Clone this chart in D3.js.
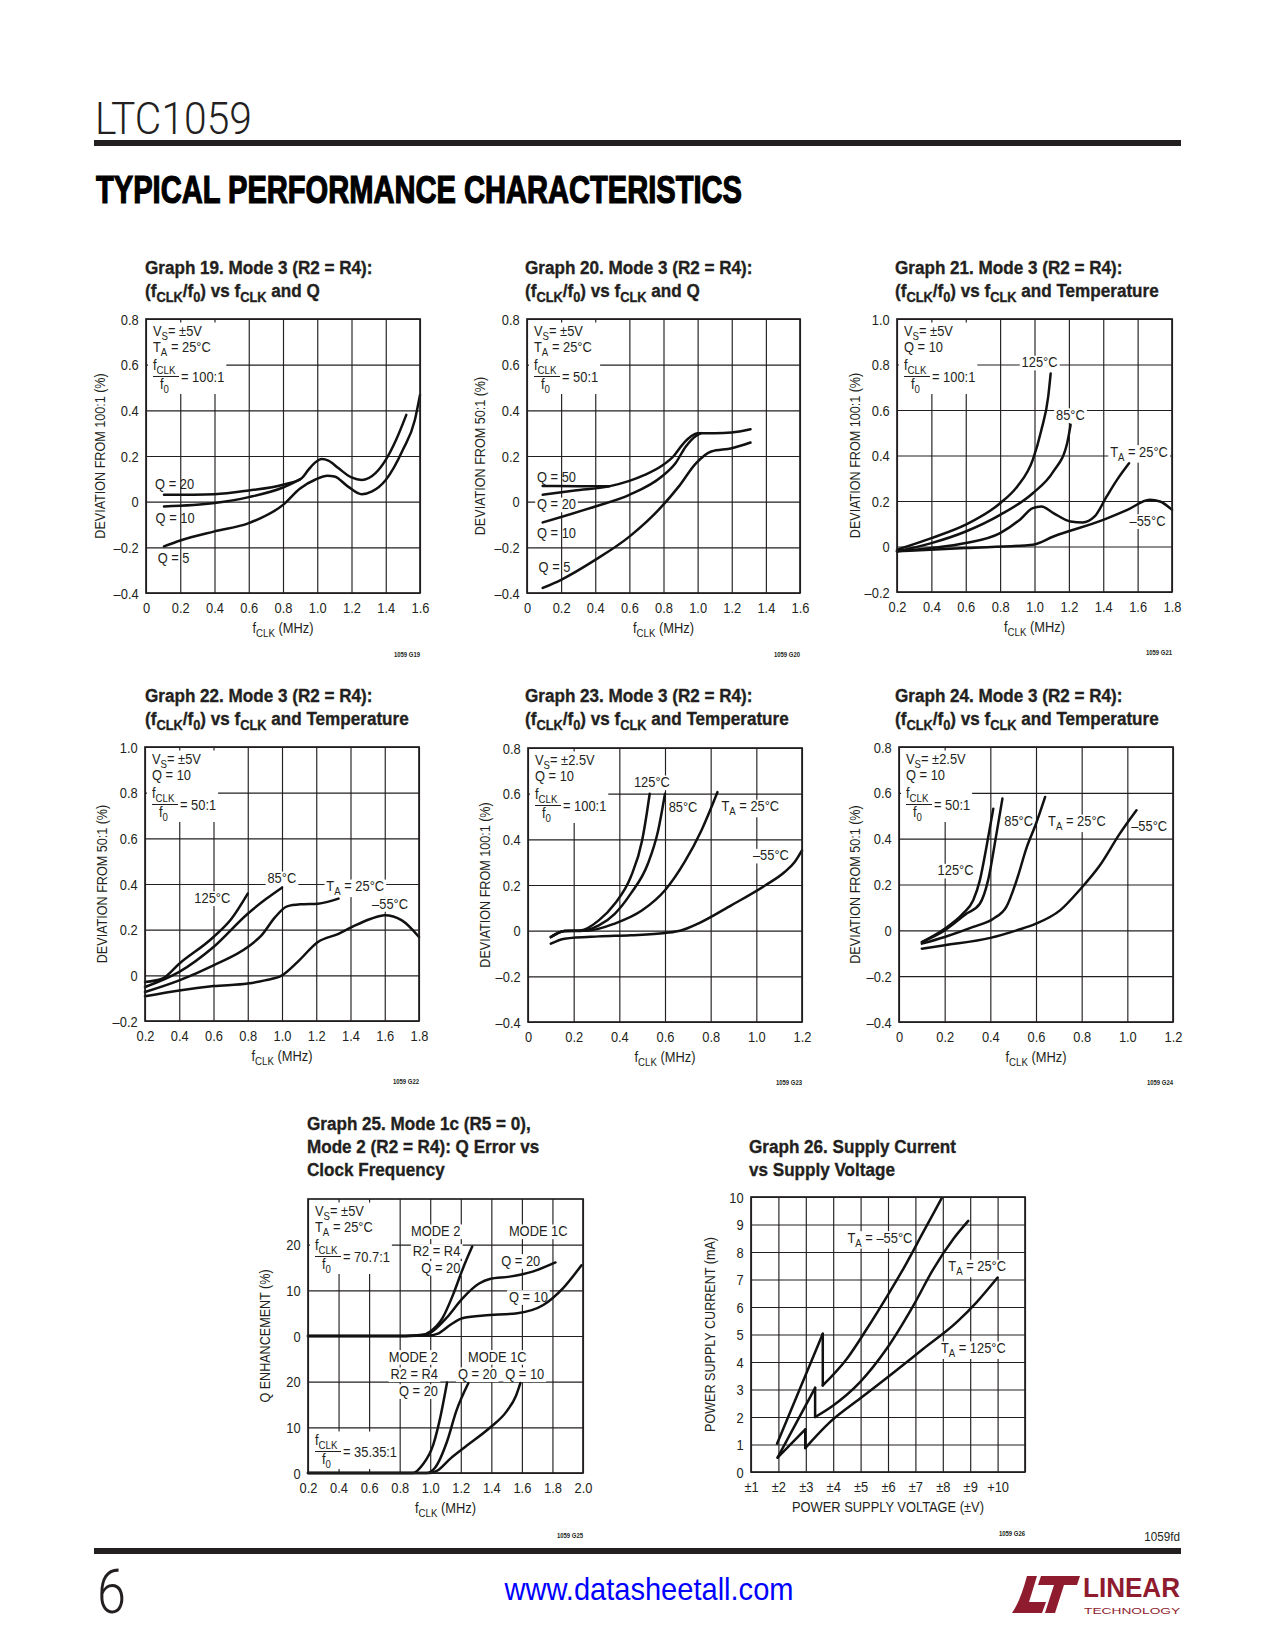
<!DOCTYPE html>
<html><head><meta charset="utf-8">
<script src="https://cdn.jsdelivr.net/npm/d3@7"></script>
<style>body{margin:0;background:#fff}</style>
</head><body>
<script>
// ================= DATA =================
// tick values / labels
const xTicks0_16 = [0,0.2,0.4,0.6,0.8,1.0,1.2,1.4,1.6];
const xLabels0_16 = ['0','0.2','0.4','0.6','0.8','1.0','1.2','1.4','1.6'];
const xTicks02_18 = [0.2,0.4,0.6,0.8,1.0,1.2,1.4,1.6,1.8];
const xLabels02_18 = ['0.2','0.4','0.6','0.8','1.0','1.2','1.4','1.6','1.8'];
const xTicks0_12 = [0,0.2,0.4,0.6,0.8,1.0,1.2];
const xLabels0_12 = ['0','0.2','0.4','0.6','0.8','1.0','1.2'];
const yTicksM4_8 = [-0.4,-0.2,0,0.2,0.4,0.6,0.8];
const yLabelsM4_8 = ['\u20130.4','\u20130.2','0','0.2','0.4','0.6','0.8'];
const yTicksM2_10 = [-0.2,0,0.2,0.4,0.6,0.8,1.0];
const yLabelsM2_10 = ['\u20130.2','0','0.2','0.4','0.6','0.8','1.0'];
const g25XTicks = [0.2,0.4,0.6,0.8,1.0,1.2,1.4,1.6,1.8,2.0];
const g25XLabels = ['0.2','0.4','0.6','0.8','1.0','1.2','1.4','1.6','1.8','2.0'];
const g25YTicks = [0,10,20,30,40,50];
const g25YLabels = ['0','10','20','0','10','20'];
const g26XTicks = [1,2,3,4,5,6,7,8,9,10,11];
const g26XLabels = ['\u00b11','\u00b12','\u00b13','\u00b14','\u00b15','\u00b16','\u00b17','\u00b18','\u00b19','+10',''];
const g26YTicks = [0,1,2,3,4,5,6,7,8,9,10];
const g26YLabels = ['0','1','2','3','4','5','6','7','8','9','10'];

// Graph 19 : [fCLK MHz, deviation %]
const g19Q20 = [[0.105,0.030],[0.4,0.033],[0.6,0.049],[0.8,0.074],[0.909,0.103],[0.948,0.139],[0.987,0.171],[1.026,0.187],[1.065,0.18],[1.123,0.147],[1.2,0.106],[1.26,0.095],[1.34,0.125],[1.40,0.183],[1.46,0.27],[1.52,0.38]];
const g19Q10 = [[0.105,-0.021],[0.4,-0.006],[0.6,0.020],[0.8,0.062],[0.9,0.098]];
const g19Q5  = [[0.105,-0.196],[0.2,-0.17],[0.4,-0.13],[0.6,-0.094],[0.8,-0.014],[0.9,0.058],[0.99,0.097],[1.06,0.113],[1.1,0.11],[1.18,0.066],[1.26,0.033],[1.32,0.045],[1.40,0.095],[1.5,0.227],[1.57,0.358],[1.6,0.467]];
// Graph 20
const g20Q50 = [[0.092,0.069],[0.3,0.068],[0.48,0.067]];
const g20Q20 = [[0.092,0.030],[0.28,0.049],[0.48,0.067],[0.6,0.091],[0.69,0.117],[0.79,0.157],[0.86,0.20],[0.91,0.249],[0.96,0.285],[1.0,0.30],[1.1,0.30],[1.2,0.303],[1.31,0.317]];
const g20Q10 = [[0.092,-0.091],[0.4,-0.021],[0.6,0.030],[0.79,0.11],[0.87,0.168],[0.93,0.241],[0.99,0.288],[1.02,0.30]];
const g20Q5  = [[0.092,-0.378],[0.2,-0.342],[0.4,-0.255],[0.6,-0.153],[0.79,-0.021],[0.89,0.067],[0.99,0.168],[1.08,0.22],[1.2,0.234],[1.31,0.259]];
// Graph 21
const g21T125 = [[0.2,-0.014],[0.4,0.037],[0.6,0.096],[0.8,0.19],[0.9,0.264],[0.99,0.381],[1.04,0.512],[1.08,0.66],[1.094,0.76]];
const g21T85  = [[0.2,-0.021],[0.4,0.015],[0.6,0.066],[0.8,0.139],[0.99,0.234],[1.11,0.33],[1.19,0.454],[1.21,0.535]];
const g21T25  = [[0.2,-0.021],[0.4,-0.007],[0.6,0.015],[0.8,0.059],[0.915,0.118],[0.99,0.169],[1.04,0.176],[1.11,0.147],[1.21,0.11],[1.28,0.106],[1.35,0.132],[1.42,0.22],[1.48,0.293],[1.55,0.366]];
const g21TM55 = [[0.2,-0.021],[0.6,-0.007],[0.99,0.008],[1.11,0.044],[1.4,0.117],[1.54,0.161],[1.67,0.205],[1.73,0.198],[1.8,0.161]];
// Graph 22
const g22T125 = [[0.2,-0.029],[0.3,-0.015],[0.4,0.051],[0.6,0.168],[0.705,0.248],[0.8,0.358]];
const g22T85  = [[0.2,-0.051],[0.4,0.015],[0.6,0.124],[0.8,0.27],[0.91,0.336],[1.0,0.384]];
const g22T25  = [[0.2,-0.073],[0.4,-0.022],[0.6,0.044],[0.8,0.124],[0.88,0.175],[0.96,0.255],[1.03,0.302],[1.11,0.311],[1.21,0.314],[1.33,0.336]];
const g22TM55 = [[0.2,-0.092],[0.4,-0.066],[0.6,-0.047],[0.8,-0.036],[0.9,-0.022],[1.0,0.0],[1.09,0.058],[1.21,0.146],[1.33,0.182],[1.41,0.212],[1.52,0.248],[1.6,0.263],[1.7,0.241],[1.8,0.168]];
// Graph 23
const g23T125 = [[0.1,-0.028],[0.16,-0.001],[0.23,0.001],[0.31,0.045],[0.38,0.118],[0.45,0.235],[0.5,0.396],[0.52,0.512],[0.533,0.6]];
const g23T85  = [[0.1,-0.028],[0.16,-0.001],[0.23,-0.001],[0.31,0.023],[0.38,0.074],[0.45,0.162],[0.525,0.293],[0.57,0.439],[0.6,0.6]];
const g23T25  = [[0.1,-0.028],[0.16,-0.001],[0.26,0.0],[0.38,0.031],[0.5,0.089],[0.6,0.177],[0.686,0.301],[0.76,0.44],[0.83,0.607]];
const g23TM55 = [[0.1,-0.057],[0.16,-0.035],[0.31,-0.025],[0.45,-0.02],[0.6,-0.01],[0.67,0.001],[0.745,0.031],[0.89,0.111],[1.04,0.199],[1.124,0.257],[1.168,0.301],[1.2,0.352]];
// Graph 24
const g24T125 = [[0.1,-0.051],[0.2,0.007],[0.28,0.073],[0.325,0.131],[0.354,0.218],[0.383,0.364],[0.413,0.531]];
const g24T85  = [[0.1,-0.051],[0.2,0.0],[0.296,0.073],[0.354,0.116],[0.39,0.218],[0.427,0.422],[0.453,0.575]];
const g24T25  = [[0.1,-0.058],[0.2,-0.029],[0.325,0.015],[0.413,0.051],[0.47,0.102],[0.515,0.218],[0.56,0.364],[0.6,0.465],[0.64,0.582]];
const g24TM55 = [[0.1,-0.08],[0.2,-0.065],[0.4,-0.033],[0.515,0.0],[0.6,0.029],[0.705,0.087],[0.79,0.175],[0.88,0.284],[0.967,0.422],[1.04,0.524]];
// Graph 25 (Q enhancement %), upper panel fCLK/f0 = 70.7:1, lower 35.35:1
const g25UpMode2Q20  = [[0.2,0],[0.6,0],[0.84,0],[0.95,0.25],[1.0,1.0],[1.08,3.9],[1.149,9.0],[1.214,14.8],[1.275,19.6]];
const g25UpMode1cQ20 = [[0.2,0],[0.84,0],[0.95,0.2],[1.0,0.7],[1.105,3.9],[1.21,8.2],[1.32,11.5],[1.39,12.5],[1.52,13.0],[1.67,14.1],[1.82,16.1]];
const g25UpMode1cQ10 = [[0.2,0],[0.84,0],[1.0,0.1],[1.05,0.5],[1.13,2.4],[1.21,3.9],[1.35,4.5],[1.57,5.0],[1.74,6.8],[1.87,10.5],[1.99,15.5]];
const g25LoMode2Q20  = [[0.2,0],[0.6,0],[0.887,0],[0.95,1.8],[1.02,6.2],[1.06,11.3],[1.11,19.8]];
const g25LoMode1cQ20 = [[0.2,0],[0.975,0],[1.03,1.1],[1.11,6.9],[1.17,13.5],[1.25,19.7]];
const g25LoMode1cQ10 = [[0.2,0],[1.0,0],[1.04,0.4],[1.13,3.1],[1.24,6.0],[1.39,9.9],[1.5,13.5],[1.56,16.8],[1.59,19.7]];
// Graph 26 (supply voltage ±V, current mA)
const g26TM55 = [[1.95,1.03],[3.62,5.03],[3.62,3.15],[4.5,4.12],[5.23,5.21],[6.02,6.48],[6.56,7.39],[7.29,8.73],[7.96,9.96]];
const g26T25  = [[1.97,0.52],[3.34,3.06],[3.34,2.0],[4.0,2.42],[4.98,3.27],[5.95,4.48],[6.93,6.06],[7.66,7.39],[8.39,8.48],[8.93,9.13]];
const g26T125 = [[1.97,0.52],[2.98,1.55],[2.98,0.87],[3.89,1.82],[4.98,2.67],[6.08,3.52],[7.29,4.48],[8.51,5.45],[9.24,6.18],[10.0,7.07]];

// ================= DRAWING =================
const INK = '#231f20';
const FONT = "'Liberation Sans', Arial, Helvetica, sans-serif";
const svg = d3.select('body').append('svg').attr('width',1275).attr('height',1650);
svg.append('rect').attr('width',1275).attr('height',1650).attr('fill','#fff');

function parse(str){
  const out=[]; const re=/_\{([^}]*)\}/g; let last=0,m;
  while((m=re.exec(str))){ if(m.index>last) out.push([str.slice(last,m.index),false]); out.push([m[1],true]); last=re.lastIndex; }
  if(last<str.length) out.push([str.slice(last),false]);
  return out;
}
function lbl(layer, x, y, str, o={}){
  const size=o.size||14; let sx=o.sx||0.92;
  const pre=`translate(${x},${y})`+(o.rot?` rotate(${o.rot})`:'');
  const g=layer.append('g').attr('transform',pre+` scale(${sx},1)`);
  const t=g.append('text').attr('font-family',o.font||FONT).attr('font-size',size)
    .attr('font-weight',o.weight||400).attr('fill',o.fill||INK).attr('text-anchor',o.anchor||'start');
  if(o.stroke) t.attr('stroke',o.stroke).attr('stroke-width',o.sw||1);
  let prevSub=false;
  parse(str).forEach(([s,sub])=>{
    const ts=t.append('tspan').text(s);
    if(sub){ ts.attr('font-size',size*0.75); if(!prevSub) ts.attr('dy',size*0.28); }
    else if(prevSub) ts.attr('dy',-size*0.28);
    prevSub=sub;
  });
  if(o.fitW){ const w=t.node().getComputedTextLength(); sx=o.fitW/w; g.attr('transform',pre+` scale(${sx},1)`); }
  if(o.bg && o.bgL){
    const b=t.node().getBBox();
    o.bgL.append('rect').attr('transform',g.attr('transform'))
      .attr('x',b.x-2).attr('y',b.y+1).attr('width',b.width+4).attr('height',b.height-1).attr('fill','#fff');
  }
  return g;
}
function inset(txtL,bgL,x0,y0,o){
  const dy=o.dy||0;
  const g=txtL.append('g');
  if(o.l1){ lbl(g,x0+7,y0+17,o.l1); lbl(g,x0+7,y0+33,o.l2); }
  lbl(g,x0+7,y0+51+dy,'f_{CLK}');
  g.append('line').attr('x1',x0+7).attr('x2',x0+33).attr('y1',y0+57.5+dy).attr('y2',y0+57.5+dy).attr('stroke',INK).attr('stroke-width',1);
  lbl(g,x0+14,y0+70+dy,'f_{0}');
  lbl(g,x0+35,y0+63+dy,'= '+o.ratio);
  const r=g.node().getBoundingClientRect(), s=svg.node().getBoundingClientRect();
  const top=Math.max(r.top-s.top-1, y0+2);
  bgL.append('rect').attr('x',x0+2).attr('y',top).attr('width',r.right-s.left+2-(x0+2)).attr('height',r.bottom-s.top-top-1).attr('fill','#fff');
}
function segments(d){
  const segs=[]; let cur=[d[0]];
  for(let i=1;i<d.length;i++){
    if(d[i][0]===d[i-1][0]){ segs.push(cur); segs.push([d[i-1],d[i]]); cur=[d[i]]; }
    else cur.push(d[i]);
  }
  segs.push(cur); return segs.filter(s=>s.length>1);
}

function build(c){
  const [x0,y0,x1,y1]=c.box;
  const root=svg.append('g');
  const x=d3.scaleLinear().domain(c.xd).range([x0,x1]);
  const ys={main:d3.scaleLinear().domain(c.yd).range([y1,y0])};
  if(c.split){ const ym=(y0+y1)/2; ys.u=d3.scaleLinear().domain([0,30]).range([ym,y0]); ys.l=d3.scaleLinear().domain([0,30]).range([y1,ym]); }
  const gridL=root.append('g'), bgL=root.append('g'), curveL=root.append('g'), txtL=root.append('g');
  const y=ys.main;
  // grid lines through axes
  gridL.append('g').attr('transform',`translate(0,${y1})`)
    .call(d3.axisBottom(x).tickValues(c.xt).tickSize(-(y1-y0)).tickFormat(''))
    .call(s=>{s.select('.domain').remove(); s.selectAll('line').attr('stroke',INK).attr('stroke-width',1.15);});
  gridL.append('g').attr('transform',`translate(${x0},0)`)
    .call(d3.axisLeft(y).tickValues(c.yt).tickSize(-(x1-x0)).tickFormat(''))
    .call(s=>{s.select('.domain').remove(); s.selectAll('line').attr('stroke',INK).attr('stroke-width',1.15);});
  // tick labels
  txtL.append('g').attr('transform',`translate(0,${y1})`)
    .call(d3.axisBottom(x).tickValues(c.xt).tickSize(0).tickFormat((d,i)=>c.xl[i]))
    .call(s=>{s.select('.domain').remove(); s.attr('font-family',FONT).attr('font-size',14);
      s.selectAll('text').attr('y',20).attr('dy',null).attr('fill',INK).attr('transform','scale(0.92,1)');});
  txtL.append('g').attr('transform',`translate(${x0},0)`)
    .call(d3.axisLeft(y).tickValues(c.yt).tickSize(0).tickFormat((d,i)=>c.yl[i]))
    .call(s=>{s.select('.domain').remove(); s.attr('font-family',FONT).attr('font-size',14);
      s.selectAll('text').attr('x',-8).attr('y',5).attr('dy',null).attr('fill',INK).attr('transform','scale(0.92,1)');});
  // frame
  txtL.append('rect').attr('x',x0).attr('y',y0).attr('width',x1-x0).attr('height',y1-y0)
    .attr('fill','none').attr('stroke',INK).attr('stroke-width',1.7);
  // curves
  c.series.forEach(s=>{
    const ysc=ys[s.ys||'main'];
    const line=d3.line().x(d=>x(d[0])).y(d=>ysc(d[1])).curve(d3.curveMonotoneX);
    segments(s.d).forEach(seg=>{
      curveL.append('path').datum(seg).attr('d',line)
        .attr('fill','none').attr('stroke','#111').attr('stroke-width',2.5).attr('stroke-linejoin','round').attr('stroke-linecap','round');
    });
  });
  // labels
  (c.labels||[]).forEach(l=>{
    const ysc=ys[l.ys||'main'];
    lbl(txtL,x(l.x),ysc(l.y),l.t,{anchor:l.a||'start',bg:l.bg!==false,bgL});
  });
  if(c.inset) inset(txtL,bgL,x0,y0,c.inset);
  if(c.inset2) inset(txtL,bgL,x0,y0,c.inset2);
  // titles
  c.title.forEach((t,i)=>lbl(root,c.tx,c.ty+i*23,t,{size:19,weight:700,sx:0.9,stroke:INK,sw:0.35}));
  lbl(root,(x0+x1)/2,y1+40,c.xtitle,{anchor:'middle'});
  lbl(root,x0-c.ytOff,(y0+y1)/2,c.ytitle,{anchor:'middle',rot:-90,sx:0.9});
  lbl(root,x1,y1+c.codeDy,c.code,{size:7,weight:700,anchor:'end',sx:0.85});
}

const FX = 'f_{CLK} (MHz)';
const charts = [
 {box:[146,319,420,593], xd:[0,1.6], yd:[-0.4,0.8], xt:xTicks0_16, xl:xLabels0_16, yt:yTicksM4_8, yl:yLabelsM4_8,
  title:['Graph 19. Mode 3 (R2 = R4):','(f_{CLK}/f_{0}) vs f_{CLK} and Q'], tx:145, ty:274, xtitle:FX, ytitle:'DEVIATION FROM 100:1 (%)', ytOff:41, code:'1059 G19', codeDy:64,
  series:[{d:g19Q20},{d:g19Q10},{d:g19Q5}],
  labels:[{t:'Q = 20',x:0.053,y:0.055,bg:false},{t:'Q = 10',x:0.056,y:-0.094,bg:false},{t:'Q = 5',x:0.068,y:-0.269,bg:false}],
  inset:{l1:'V_{S}= \u00b15V',l2:'T_{A} = 25\u00b0C',ratio:'100:1'}},
 {box:[527,319,800,593], xd:[0,1.6], yd:[-0.4,0.8], xt:xTicks0_16, xl:xLabels0_16, yt:yTicksM4_8, yl:yLabelsM4_8,
  title:['Graph 20. Mode 3 (R2 = R4):','(f_{CLK}/f_{0}) vs f_{CLK} and Q'], tx:525, ty:274, xtitle:FX, ytitle:'DEVIATION FROM 50:1 (%)', ytOff:42, code:'1059 G20', codeDy:64,
  series:[{d:g20Q50},{d:g20Q20},{d:g20Q10},{d:g20Q5}],
  labels:[{t:'Q = 50',x:0.0585,y:0.088,bg:false},{t:'Q = 20',x:0.0585,y:-0.0327},{t:'Q = 10',x:0.0585,y:-0.159,bg:false},{t:'Q = 5',x:0.068,y:-0.31,bg:false}],
  inset:{l1:'V_{S}= \u00b15V',l2:'T_{A} = 25\u00b0C',ratio:'50:1'}},
 {box:[897,319,1172,592], xd:[0.2,1.8], yd:[-0.2,1.0], xt:xTicks02_18, xl:xLabels02_18, yt:yTicksM2_10, yl:yLabelsM2_10,
  title:['Graph 21. Mode 3 (R2 = R4):','(f_{CLK}/f_{0}) vs f_{CLK} and Temperature'], tx:895, ty:274, xtitle:FX, ytitle:'DEVIATION FROM 100:1 (%)', ytOff:37, code:'1059 G21', codeDy:63,
  series:[{d:g21T125},{d:g21T85},{d:g21T25},{d:g21TM55}],
  labels:[{t:'125\u00b0C',x:0.925,y:0.788},{t:'85\u00b0C',x:1.125,y:0.557},{t:'T_{A} = 25\u00b0C',x:1.44,y:0.395},{t:'\u201355\u00b0C',x:1.553,y:0.091}],
  inset:{l1:'V_{S}= \u00b15V',l2:'Q = 10',ratio:'100:1'}},
 {box:[145,747,419,1021], xd:[0.2,1.8], yd:[-0.2,1.0], xt:xTicks02_18, xl:xLabels02_18, yt:yTicksM2_10, yl:yLabelsM2_10,
  title:['Graph 22. Mode 3 (R2 = R4):','(f_{CLK}/f_{0}) vs f_{CLK} and Temperature'], tx:145, ty:702, xtitle:FX, ytitle:'DEVIATION FROM 50:1 (%)', ytOff:38, code:'1059 G22', codeDy:63,
  series:[{d:g22T125},{d:g22T85},{d:g22T25},{d:g22TM55}],
  labels:[{t:'125\u00b0C',x:0.488,y:0.317},{t:'85\u00b0C',x:0.915,y:0.404},{t:'T_{A} = 25\u00b0C',x:1.259,y:0.369},{t:'\u201355\u00b0C',x:1.526,y:0.292}],
  inset:{l1:'V_{S}= \u00b15V',l2:'Q = 10',ratio:'50:1'}},
 {box:[528,748,802,1022], xd:[0,1.2], yd:[-0.4,0.8], xt:xTicks0_12, xl:xLabels0_12, yt:yTicksM4_8, yl:yLabelsM4_8,
  title:['Graph 23. Mode 3 (R2 = R4):','(f_{CLK}/f_{0}) vs f_{CLK} and Temperature'], tx:525, ty:702, xtitle:FX, ytitle:'DEVIATION FROM 100:1 (%)', ytOff:38, code:'1059 G23', codeDy:63,
  series:[{d:g23T125},{d:g23T85},{d:g23T25},{d:g23TM55}],
  labels:[{t:'125\u00b0C',x:0.464,y:0.629},{t:'85\u00b0C',x:0.616,y:0.52},{t:'T_{A} = 25\u00b0C',x:0.847,y:0.523},{t:'\u201355\u00b0C',x:0.985,y:0.308}],
  inset:{l1:'V_{S}= \u00b12.5V',l2:'Q = 10',ratio:'100:1'}},
 {box:[899,747,1173,1022], xd:[0,1.2], yd:[-0.4,0.8], xt:xTicks0_12, xl:xLabels0_12, yt:yTicksM4_8, yl:yLabelsM4_8,
  title:['Graph 24. Mode 3 (R2 = R4):','(f_{CLK}/f_{0}) vs f_{CLK} and Temperature'], tx:895, ty:702, xtitle:FX, ytitle:'DEVIATION FROM 50:1 (%)', ytOff:39, code:'1059 G24', codeDy:63,
  series:[{d:g24T125},{d:g24T85},{d:g24T25},{d:g24TM55}],
  labels:[{t:'125\u00b0C',x:0.169,y:0.24},{t:'85\u00b0C',x:0.461,y:0.455},{t:'T_{A} = 25\u00b0C',x:0.653,y:0.455},{t:'\u201355\u00b0C',x:1.017,y:0.432}],
  inset:{l1:'V_{S}= \u00b12.5V',l2:'Q = 10',ratio:'50:1'}},
 {box:[308,1199,583,1473], xd:[0.2,2.0], yd:[0,60], split:true, xt:g25XTicks, xl:g25XLabels, yt:g25YTicks, yl:g25YLabels,
  title:['Graph 25. Mode 1c (R5 = 0),','Mode 2 (R2 = R4): Q Error vs','Clock Frequency'], tx:307, ty:1130, xtitle:FX, ytitle:'Q ENHANCEMENT (%)', ytOff:38, code:'1059 G25', codeDy:65,
  series:[{d:g25UpMode2Q20,ys:'u'},{d:g25UpMode1cQ20,ys:'u'},{d:g25UpMode1cQ10,ys:'u'},{d:g25LoMode2Q20,ys:'l'},{d:g25LoMode1cQ20,ys:'l'},{d:g25LoMode1cQ10,ys:'l'}],
  labels:[
   {t:'MODE 2',x:1.197,y:21.9,ys:'u',a:'end'},{t:'R2 = R4',x:1.197,y:17.6,ys:'u',a:'end'},{t:'Q = 20',x:1.197,y:13.9,ys:'u',a:'end'},
   {t:'MODE 1C',x:1.515,y:21.9,ys:'u'},{t:'Q = 20',x:1.465,y:15.4,ys:'u'},{t:'Q = 10',x:1.515,y:7.5,ys:'u'},
   {t:'MODE 2',x:1.051,y:24.4,ys:'l',a:'end'},{t:'R2 = R4',x:1.051,y:20.6,ys:'l',a:'end'},{t:'Q = 20',x:1.051,y:16.9,ys:'l',a:'end'},
   {t:'MODE 1C',x:1.247,y:24.4,ys:'l'},{t:'Q = 20',x:1.181,y:20.6,ys:'l'},{t:'Q = 10',x:1.491,y:20.6,ys:'l'}],
  inset:{l1:'V_{S}= \u00b15V',l2:'T_{A} = 25\u00b0C',ratio:'70.7:1'},
  inset2:{ratio:'35.35:1',dy:195}},
 {box:[751,1197,1025,1472], xd:[1,11], yd:[0,10], xt:g26XTicks, xl:g26XLabels, yt:g26YTicks, yl:g26YLabels,
  title:['Graph 26. Supply Current','vs Supply Voltage'], tx:749, ty:1153, xtitle:'POWER SUPPLY VOLTAGE (\u00b1V)', ytitle:'POWER SUPPLY CURRENT (mA)', ytOff:36, code:'1059 G26', codeDy:64,
  series:[{d:g26TM55},{d:g26T25},{d:g26T125}],
  labels:[{t:'T_{A} = \u201355\u00b0C',x:4.52,y:8.34},{t:'T_{A} = 25\u00b0C',x:8.2,y:7.3},{t:'T_{A} = 125\u00b0C',x:7.93,y:4.33}]}
];
charts.forEach(build);

// ================= PAGE HEADER / FOOTER =================
lbl(svg,95,134,'LTC1059',{size:44,font:"Roboto, 'Liberation Sans', sans-serif",weight:300,fitW:157});
svg.append('rect').attr('x',94).attr('y',140).attr('width',1087).attr('height',6).attr('fill',INK);
lbl(svg,96,203,'TYPICAL PERFORMANCE CHARACTERISTICS',{size:38,weight:900,fitW:646,fill:'#000',stroke:'#000',sw:1.2});
svg.append('rect').attr('x',94).attr('y',1548).attr('width',1087).attr('height',6).attr('fill',INK);
lbl(svg,1180,1541,'1059fd',{size:13,anchor:'end',sx:0.9});
lbl(svg,97,1613,'6',{size:62,font:"Roboto, 'Liberation Sans', sans-serif",weight:300,fitW:29});
lbl(svg,649,1600,'www.datasheetall.com',{size:32,anchor:'middle',fill:'#0000ff',fitW:289});
// Linear Technology logo
const LOGO='#8e1b2e';
svg.append('path').attr('d','M1027,1576 L1037,1576 L1029,1602 L1046,1602 L1042,1613 L1012,1613 Q1020,1602 1027,1576 Z').attr('fill',LOGO);
svg.append('path').attr('d','M1041,1576 L1080,1576 L1077,1585 L1064,1585 L1055,1613 L1045,1613 L1054,1585 L1038,1585 Z').attr('fill',LOGO);
lbl(svg,1083,1597,'LINEAR',{size:27,fill:LOGO,weight:700,fitW:97});
lbl(svg,1084,1614,'TECHNOLOGY',{size:9,fill:LOGO,fitW:96});
</script>
</body></html>
